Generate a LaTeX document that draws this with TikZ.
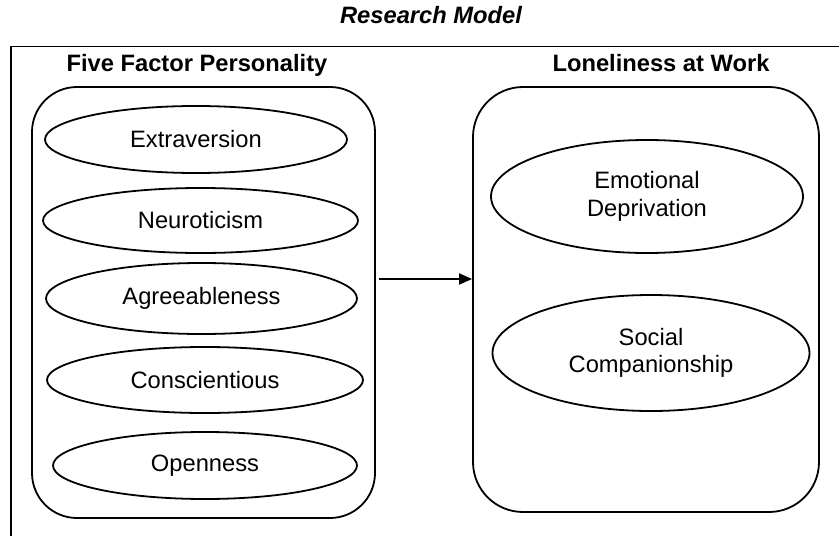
\documentclass[tikz,border=0pt]{standalone}
\usepackage{fontspec}
\setmainfont{Liberation Sans}
\usetikzlibrary{shapes.geometric,arrows.meta}
\begin{document}
\begin{tikzpicture}[x=1pt,y=-1pt,
  every node/.style={font=\fontsize{23.7}{27.7}\selectfont},
  line/.style={line width=1.8pt},
  grp/.style={draw, line width=1.8pt, inner sep=0pt},
  oval/.style={draw, ellipse, line width=1.8pt, inner sep=0pt, align=center},
  hdr/.style={font=\fontsize{23.7}{27.7}\selectfont\bfseries, anchor=base},
]
\useasboundingbox (0,0) rectangle (839,536);
\coordinate (frameBL) at (11,536);
\coordinate (frameTL) at (11,46.5);
\coordinate (frameTR) at (839,46.5);
\draw[line] (frameBL) -- (frameTL) -- (frameTR);

\node[hdr, font=\fontsize{23.7}{27.7}\selectfont\bfseries\itshape] (title) at (431,23) {Research Model};
\node[hdr] (hf) at (197,71) {Five Factor Personality};
\node[hdr] (hl) at (661,71) {Loneliness at Work};

\node[grp, rounded corners=45pt, minimum width=343pt, minimum height=431pt] (fivef) at (203.5,302.5) {};
\node[grp, rounded corners=50pt, minimum width=346pt, minimum height=425pt] (lone) at (646,299.5) {};

\node[oval, minimum width=302pt, minimum height=67pt] (ext) at (196,139.5) {Extraversion};
\node[oval, minimum width=315pt, minimum height=65pt] (neu) at (200.5,220.5) {Neuroticism};
\node[oval, minimum width=311pt, minimum height=71pt] (agr) at (201.5,298.5) {Agreeableness};
\node[oval, minimum width=316pt, minimum height=66pt] (con) at (205,380) {Conscientious};
\node[oval, minimum width=304pt, minimum height=67pt] (ope) at (205,465.5) {Openness};

\node[oval, minimum width=312pt, minimum height=113pt] (emo) at (647,196.5) {Emotional\\Deprivation};
\node[oval, minimum width=317pt, minimum height=116pt] (soc) at (651,353) {Social\\Companionship};

\coordinate (arrowY) at (0,279);
\draw[line, -{Triangle[length=13pt,width=11pt]}] ([xshift=3pt]fivef.east |- arrowY) -- (lone.west |- arrowY);
\end{tikzpicture}
\end{document}
